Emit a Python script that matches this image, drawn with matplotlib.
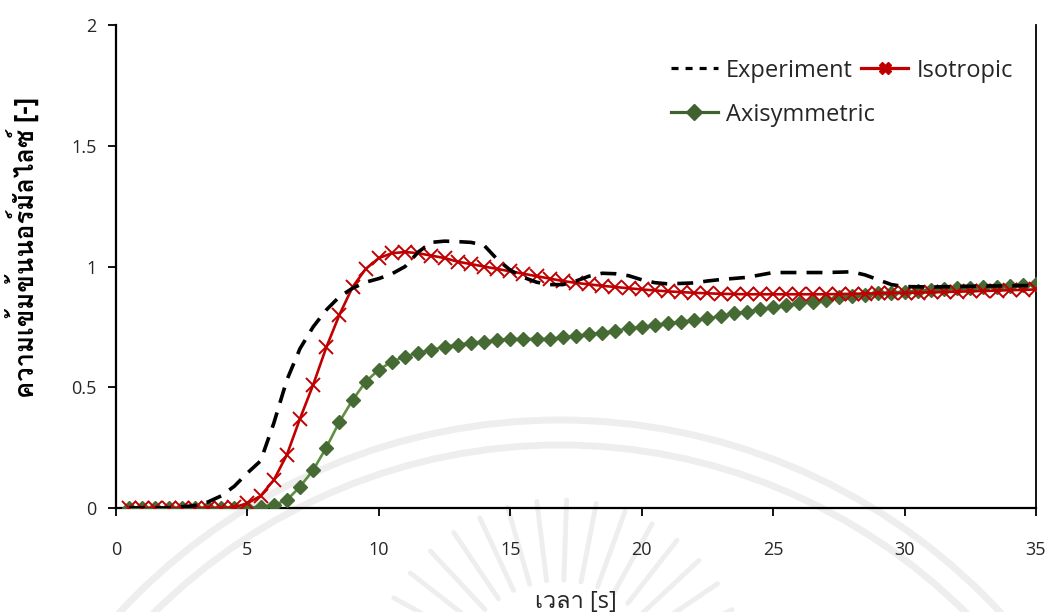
import matplotlib
matplotlib.use("Agg")
import matplotlib.pyplot as plt
import numpy as np
from matplotlib import font_manager
from matplotlib.ft2font import FT2Font
from matplotlib.lines import Line2D
from matplotlib.patches import Arc

# ---- data ----
exp_t = [0.5, 1, 2, 3, 3.5, 4, 4.5, 5, 5.5, 6, 6.5, 7, 7.5, 8, 8.5, 9,
         9.5, 10, 10.5, 11, 11.5, 12, 12.5, 13, 13.5, 14, 14.5, 15, 15.5, 16,
         16.5, 17, 17.5, 18, 18.5, 19, 19.5, 20, 20.5, 21, 22, 22.5, 23, 24,
         24.5, 25, 26, 27, 28, 28.5, 29, 29.5, 30, 31, 32, 33, 34, 35]
exp_c = [0, 0, 0, 0.01, 0.025, 0.05, 0.09, 0.145, 0.195, 0.35, 0.53,
         0.66, 0.75, 0.82, 0.875, 0.91, 0.935, 0.95, 0.97, 1.0, 1.06, 1.1,
         1.105, 1.103, 1.1, 1.088, 1.03, 0.985, 0.955, 0.935, 0.925, 0.925,
         0.94, 0.96, 0.972, 0.97, 0.962, 0.945, 0.933, 0.928, 0.932, 0.94,
         0.946, 0.955, 0.965, 0.975, 0.975, 0.975, 0.978, 0.965, 0.945, 0.925,
         0.917, 0.915, 0.917, 0.919, 0.92, 0.922]

sim_t = [0.5 * i for i in range(1, 71)]
iso_c = [0, 0, 0, 0, 0, 0, 0, 0, 0.003, 0.02, 0.05, 0.115, 0.22, 0.37,
         0.51, 0.665, 0.80, 0.915, 0.99, 1.035, 1.055, 1.06, 1.055, 1.045,
         1.035, 1.02, 1.01, 1.0, 0.99, 0.98, 0.97, 0.96, 0.95, 0.94, 0.932,
         0.926, 0.92, 0.915, 0.91, 0.905, 0.901, 0.897, 0.894, 0.891, 0.889,
         0.887, 0.886, 0.885, 0.885, 0.885, 0.885, 0.885, 0.885, 0.885, 0.886,
         0.887, 0.888, 0.889, 0.89, 0.891, 0.892, 0.893, 0.894, 0.896, 0.897,
         0.899, 0.9, 0.902, 0.903, 0.905]
axi_c = [0, 0, 0, 0, 0, 0, 0, 0, 0, 0.002, 0.005, 0.012, 0.033, 0.088,
         0.157, 0.25, 0.357, 0.447, 0.523, 0.573, 0.606, 0.627, 0.643, 0.654,
         0.668, 0.675, 0.685, 0.689, 0.696, 0.699, 0.70, 0.70, 0.70, 0.707,
         0.712, 0.72, 0.726, 0.734, 0.744, 0.748, 0.758, 0.765, 0.771, 0.778,
         0.785, 0.795, 0.806, 0.813, 0.823, 0.831, 0.84, 0.848, 0.854, 0.861,
         0.872, 0.878, 0.882, 0.889, 0.892, 0.896, 0.9, 0.903, 0.906, 0.91,
         0.912, 0.914, 0.917, 0.92, 0.923, 0.928]

x_ticks = [0, 5, 10, 15, 20, 25, 30, 35]
y_ticks = [0, 0.5, 1, 1.5, 2]
y_tick_labels = ["0", "0.5", "1", "1.5", "2"]
x_label = "เวลา [s]"
y_label = "ความเข้มข้นนอร์มัลไลซ์ [-]"


# pick an installed font that has Thai glyphs
def find_thai_font():
    for f in font_manager.fontManager.ttflist:
        try:
            if 0x0E04 in FT2Font(f.fname).get_charmap():
                return f.name
        except Exception:
            pass
    return None


thai = find_thai_font()
families = ["Open Sans"] + ([thai] if thai else []) + ["DejaVu Sans"]
plt.rcParams["font.family"] = families

fig = plt.figure(figsize=(10.48, 6.12), dpi=100)

# faint watermark behind the chart
bg = fig.add_axes([0, 0, 1, 1], zorder=0)
bg.set_xlim(0, 1048)
bg.set_ylim(612, 0)
bg.axis("off")
wm = "#eeeeee"
for r in (600, 575):
    bg.add_patch(Arc((560, 1020), 2 * r, 2 * r, theta1=180, theta2=360,
                     color=wm, lw=5))
for ang in np.arange(25, 160, 9):
    a = np.radians(ang)
    bg.plot([560 + 110 * np.cos(a), 560 + 190 * np.cos(a)],
            [690 - 110 * np.sin(a), 690 - 190 * np.sin(a)],
            color=wm, lw=3.5, solid_capstyle="round")

ax = fig.add_axes([116 / 1048, 1 - 508 / 612, 920 / 1048, 483 / 612], zorder=1)
ax.patch.set_alpha(0)

ax.plot(exp_t, exp_c, color="black", lw=2.6, dashes=(4.4, 2.8), zorder=5)
ax.plot(sim_t, iso_c, color="#c00000", lw=1.9, marker="x", ms=9.5, mew=1.4,
        zorder=4)
ax.plot(sim_t, axi_c, color="#5f8f40", lw=1.9, marker="D", ms=6.8,
        mfc="#466a34", mec="#466a34", zorder=3)

ax.set_xlim(0, 35)
ax.set_ylim(0, 2)
ax.set_xticks(x_ticks)
ax.set_yticks(y_ticks)
ax.set_yticklabels(y_tick_labels)
ax.tick_params(labelsize=13, length=6, width=1.3, color="black",
               labelcolor="#262626")
ax.tick_params(axis="x", pad=18)
ax.tick_params(axis="y", pad=8)
for s in ax.spines.values():
    s.set_linewidth(1.3)
ax.spines["left"].set_linewidth(1.6)
ax.spines["bottom"].set_linewidth(1.6)
ax.spines["top"].set_visible(False)

ax.set_xlabel(x_label, fontsize=17, color="#262626", labelpad=22)
ax.set_ylabel(y_label, fontsize=18.5, fontweight="bold", color="black")
ax.yaxis.set_label_coords(-0.082, 0.54)

h_exp = Line2D([], [], color="black", lw=2.3, dashes=(2.2, 2.2))
h_axi = Line2D([], [], color="#3f6130", lw=2.3, marker="D", ms=8)
h_iso = Line2D([], [], color="#c00000", lw=2.3, marker="X", ms=9)
ax.legend([h_exp, h_axi, h_iso], ["Experiment", "Axisymmetric", "Isotropic"],
          ncol=2, loc="upper right", bbox_to_anchor=(0.985, 0.95),
          frameon=False, fontsize=17, handlelength=2.0, handletextpad=0.35,
          columnspacing=-0.6, labelspacing=0.85, borderaxespad=0,
          labelcolor="#262626")

fig.savefig("out.png", dpi=100)
